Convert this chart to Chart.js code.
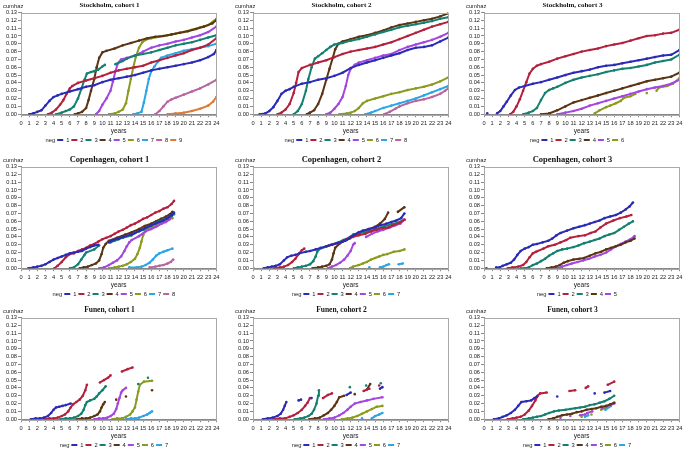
<!DOCTYPE html>
<html>
<head>
<meta charset="utf-8">
<script src="https://cdn.jsdelivr.net/npm/chart.js@4.4.1/dist/chart.umd.min.js"></script>
<style>
  body { margin: 0; background: #fff; }
  #wrap { position: relative; width: 685px; height: 452px; overflow: hidden; }
  #wrap canvas { position: absolute; }
</style>
</head>
<body>
<div id="wrap"></div>
<script>
// cumulative hazard, [years, cumhaz] per neg group
const stockholm1 = [
  [[1.0,0],[1.5,0.001],[2.0,0.003],[2.5,0.005],[3.0,0.011],[3.5,0.017],[4.0,0.022],[4.5,0.024],[5.0,0.026],[6.0,0.029],[7.0,0.032],[8.0,0.035],[9.0,0.037],[10.0,0.041],[11.0,0.044],[12.0,0.046],[13.0,0.048],[14.0,0.050],[15.0,0.053],[16.0,0.056],[17.0,0.058],[18.0,0.060],[19.0,0.062],[20.0,0.064],[21.0,0.066],[22.0,0.069],[23.0,0.073],[23.7,0.077],[24.0,0.082]],
  [[3.3,0],[3.8,0.002],[4.3,0.006],[4.8,0.012],[5.2,0.018],[5.6,0.026],[6.0,0.033],[6.3,0.036],[7.0,0.040],[8.0,0.043],[9.0,0.046],[10.0,0.049],[11.0,0.053],[12.0,0.056],[13.0,0.058],[14.0,0.060],[15.0,0.062],[16.0,0.066],[17.0,0.069],[18.0,0.072],[19.0,0.075],[20.0,0.078],[21.0,0.082],[22.0,0.085],[23.0,0.089],[24.0,0.097]],
  [[4.3,0],[5.0,0.002],[5.5,0.004],[6.0,0.006],[6.5,0.010],[7.0,0.020],[7.4,0.032],[7.8,0.044],[8.1,0.052],[8.6,0.054],[9.0,0.055],[9.5,0.057],[10.0,0.061],[10.3,0.063],[11.6,0.064],[12.5,0.068],[13.0,0.071],[14.0,0.075],[15.0,0.077],[16.0,0.079],[17.0,0.082],[18.0,0.085],[19.0,0.088],[20.0,0.090],[21.0,0.092],[22.0,0.095],[23.0,0.098],[24.0,0.101]],
  [[6.6,0],[7.0,0.001],[7.5,0.003],[8.0,0.008],[8.3,0.018],[8.6,0.030],[9.0,0.045],[9.3,0.060],[9.6,0.072],[10.0,0.079],[10.5,0.081],[11.5,0.084],[12.5,0.088],[13.5,0.091],[14.5,0.094],[15.5,0.097],[16.5,0.099],[17.5,0.100],[18.5,0.102],[19.5,0.104],[20.5,0.106],[21.5,0.109],[22.5,0.112],[23.5,0.116],[24.0,0.120]],
  [[9.2,0],[9.6,0.004],[10.0,0.012],[10.5,0.020],[11.0,0.030],[11.3,0.042],[11.6,0.055],[11.9,0.065],[12.3,0.070],[13.0,0.072],[14.0,0.075],[15.0,0.080],[16.0,0.085],[17.0,0.088],[18.0,0.090],[19.0,0.093],[20.0,0.095],[21.0,0.098],[22.0,0.101],[23.0,0.105],[24.0,0.112]],
  [[10.8,0],[11.5,0.001],[12.0,0.003],[12.5,0.006],[12.9,0.014],[13.2,0.030],[13.5,0.045],[13.8,0.060],[14.1,0.073],[14.5,0.085],[14.9,0.092],[15.3,0.095],[16.0,0.097],[17.0,0.099],[18.0,0.101],[19.0,0.103],[20.0,0.105],[21.0,0.108],[22.0,0.111],[23.0,0.114],[24.0,0.122]],
  [[13.8,0],[14.3,0.001],[14.8,0.003],[15.1,0.015],[15.4,0.030],[15.7,0.045],[16.0,0.055],[16.4,0.061],[16.8,0.067],[17.2,0.072],[18.0,0.075],[19.0,0.078],[20.0,0.081],[21.0,0.083],[22.0,0.085],[23.0,0.087],[24.0,0.090]],
  [[16.5,0],[17.0,0.004],[17.5,0.010],[18.0,0.016],[18.5,0.019],[19.0,0.021],[20.0,0.025],[21.0,0.029],[22.0,0.033],[23.0,0.038],[24.0,0.044]],
  [[18.0,0],[19.0,0.001],[20.0,0.002],[21.0,0.004],[22.0,0.007],[23.0,0.011],[23.6,0.016],[24.0,0.022]]
];

const stockholm2 = [
  [[0.8,0],[1.5,0.001],[2.0,0.004],[2.5,0.009],[3.0,0.017],[3.5,0.026],[4.0,0.030],[4.5,0.032],[5.0,0.035],[6.0,0.039],[7.0,0.041],[8.0,0.044],[9.0,0.046],[10.0,0.049],[11.0,0.053],[12.0,0.059],[13.0,0.063],[14.0,0.066],[15.0,0.069],[16.0,0.072],[17.0,0.075],[18.0,0.078],[19.0,0.082],[20.0,0.085],[21.0,0.086],[22.0,0.088],[23.0,0.093],[24.0,0.098]],
  [[3.0,0],[3.5,0.002],[4.0,0.006],[4.5,0.013],[5.0,0.027],[5.3,0.040],[5.6,0.054],[6.0,0.059],[7.0,0.063],[8.0,0.066],[9.0,0.069],[10.0,0.073],[11.0,0.077],[12.0,0.080],[13.0,0.082],[14.0,0.084],[15.0,0.086],[16.0,0.089],[17.0,0.092],[18.0,0.096],[19.0,0.100],[20.0,0.104],[21.0,0.108],[22.0,0.112],[23.0,0.115],[24.0,0.118]],
  [[5.0,0],[5.5,0.004],[6.0,0.013],[6.5,0.030],[6.8,0.045],[7.2,0.060],[7.6,0.071],[8.0,0.074],[8.5,0.078],[9.0,0.082],[9.5,0.086],[10.0,0.089],[10.5,0.090],[11.0,0.091],[12.0,0.094],[13.0,0.096],[14.0,0.099],[15.0,0.102],[16.0,0.105],[17.0,0.108],[18.0,0.111],[19.0,0.113],[20.0,0.115],[21.0,0.117],[22.0,0.119],[23.0,0.122],[24.0,0.124]],
  [[6.6,0],[7.0,0.002],[7.5,0.005],[8.0,0.013],[8.5,0.026],[9.0,0.044],[9.4,0.058],[9.8,0.072],[10.1,0.083],[10.5,0.090],[11.0,0.093],[12.0,0.096],[13.0,0.099],[14.0,0.101],[15.0,0.104],[16.0,0.107],[17.0,0.111],[18.0,0.114],[19.0,0.116],[20.0,0.118],[21.0,0.120],[22.0,0.122],[23.0,0.125],[24.0,0.129]],
  [[9.0,0],[9.5,0.002],[10.0,0.007],[10.5,0.013],[11.0,0.022],[11.4,0.036],[11.7,0.050],[12.0,0.058],[12.5,0.063],[13.0,0.066],[14.0,0.069],[15.0,0.072],[16.0,0.075],[17.0,0.077],[18.0,0.082],[19.0,0.086],[20.0,0.089],[21.0,0.092],[22.0,0.095],[23.0,0.099],[24.0,0.104]],
  [[10.6,0],[11.5,0.001],[12.0,0.002],[12.5,0.004],[13.0,0.008],[13.5,0.014],[14.0,0.017],[15.0,0.020],[16.0,0.023],[17.0,0.026],[18.0,0.028],[19.0,0.031],[20.0,0.033],[21.0,0.035],[22.0,0.038],[23.0,0.042],[24.0,0.047]],
  [[13.8,0],[14.5,0.002],[15.0,0.004],[16.0,0.008],[17.0,0.011],[18.0,0.014],[19.0,0.017],[20.0,0.020],[21.0,0.024],[22.0,0.028],[23.0,0.032],[24.0,0.036]],
  [[16.1,0],[16.8,0.003],[17.5,0.007],[18.0,0.010],[19.0,0.014],[20.0,0.017],[21.0,0.019],[22.0,0.022],[23.0,0.026],[23.6,0.030],[24.0,0.033]]
];

const stockholm3 = [
  [[0.4,0.001],[1.6,0.001],[2.0,0.004],[2.4,0.010],[2.8,0.016],[3.3,0.024],[3.8,0.031],[4.3,0.034],[5.0,0.036],[6.0,0.039],[7.0,0.041],[8.0,0.044],[9.0,0.047],[10.0,0.050],[11.0,0.053],[12.0,0.055],[13.0,0.057],[14.0,0.060],[15.0,0.062],[16.0,0.063],[17.0,0.065],[18.0,0.067],[19.0,0.069],[20.0,0.071],[21.0,0.073],[22.0,0.075],[23.0,0.076],[24.0,0.082]],
  [[3.2,0],[3.6,0.003],[4.0,0.010],[4.4,0.019],[4.8,0.030],[5.2,0.041],[5.6,0.052],[6.0,0.058],[6.5,0.062],[7.0,0.064],[8.0,0.067],[9.0,0.071],[10.0,0.074],[11.0,0.077],[12.0,0.080],[13.0,0.082],[14.0,0.084],[15.0,0.087],[16.0,0.089],[17.0,0.091],[18.0,0.094],[19.0,0.097],[20.0,0.100],[21.0,0.101],[22.0,0.103],[23.0,0.104],[24.0,0.108]],
  [[4.8,0],[5.5,0.002],[6.0,0.004],[6.5,0.008],[7.0,0.018],[7.5,0.027],[8.0,0.031],[8.5,0.033],[9.0,0.035],[10.0,0.040],[11.0,0.044],[12.0,0.047],[13.0,0.049],[14.0,0.051],[15.0,0.054],[16.0,0.056],[17.0,0.058],[18.0,0.059],[19.0,0.061],[20.0,0.063],[21.0,0.066],[22.0,0.068],[23.0,0.070],[24.0,0.076]],
  [[7.0,0],[8.0,0.001],[9.0,0.005],[10.0,0.010],[11.0,0.015],[12.0,0.018],[13.0,0.021],[14.0,0.024],[15.0,0.027],[16.0,0.030],[17.0,0.033],[18.0,0.036],[19.0,0.039],[20.0,0.042],[21.0,0.044],[22.0,0.046],[23.0,0.048],[24.0,0.053]],
  [[9.0,0],[10.0,0.002],[11.0,0.004],[12.0,0.007],[13.0,0.011],[14.0,0.014],[15.0,0.017],[16.0,0.020],[17.0,0.023],[18.0,0.026],[19.0,0.029],[20.0,0.032],[21.0,0.034],[22.0,0.036],[23.0,0.039],[24.0,0.044]],
  [[13.6,0.001],[14.2,0.005],[15.0,0.009],[15.5,0.011],[16.2,0.014],[16.8,0.017],[17.2,0.021],[18.0,0.023],[18.6,0.026],[20.0,0.027],[21.2,0.030],[21.5,0.034],[22.5,0.036],[23.2,0.039],[24.0,0.046]]
];

const copenhagen1 = [
  [[0.9,0],[1.5,0.001],[2.0,0.002],[2.5,0.003],[3.0,0.005],[3.5,0.008],[4.0,0.011],[4.5,0.013],[5.0,0.015],[5.5,0.017],[6.0,0.019],[6.5,0.020],[7.0,0.021],[7.5,0.022],[8.0,0.025],[8.5,0.027],[9.0,0.029],[9.5,0.030],[10.8,0.033],[11.3,0.036],[12.0,0.038],[12.6,0.040],[13.5,0.043],[14.0,0.045],[14.6,0.048],[15.2,0.051],[16.0,0.055],[16.5,0.057],[17.0,0.059],[17.5,0.061],[18.0,0.064],[18.5,0.068],[18.8,0.071]],
  [[4.1,0],[4.5,0.003],[5.0,0.008],[5.5,0.014],[6.0,0.018],[6.5,0.019],[7.0,0.022],[7.5,0.024],[8.0,0.026],[8.5,0.029],[9.0,0.031],[9.5,0.034],[10.0,0.037],[10.5,0.039],[11.0,0.041],[11.5,0.044],[12.0,0.047],[12.5,0.049],[13.0,0.052],[13.5,0.055],[14.0,0.057],[14.5,0.060],[15.0,0.063],[15.5,0.065],[16.0,0.068],[16.5,0.071],[17.0,0.073],[17.5,0.076],[18.0,0.078],[18.5,0.082],[18.8,0.086]],
  [[6.0,0],[6.5,0.001],[7.0,0.005],[7.4,0.011],[7.8,0.017],[8.0,0.020],[9.0,0.024],[9.6,0.029],[11.0,0.033],[11.5,0.035],[12.0,0.037],[12.5,0.039],[13.6,0.042],[14.0,0.045],[14.5,0.047],[15.0,0.049],[15.5,0.052],[16.0,0.054],[16.5,0.057],[17.0,0.060],[17.5,0.062],[18.0,0.064],[18.5,0.067],[18.8,0.069]],
  [[7.2,0],[7.7,0.001],[8.2,0.002],[8.7,0.004],[9.2,0.006],[9.6,0.010],[9.9,0.018],[10.1,0.026],[10.4,0.031],[10.8,0.035],[11.8,0.039],[12.8,0.043],[13.6,0.046],[14.5,0.050],[15.2,0.054],[16.0,0.057],[16.6,0.060],[17.2,0.063],[17.8,0.066],[18.3,0.069],[18.6,0.072]],
  [[9.6,0],[10.2,0.001],[10.8,0.004],[11.3,0.007],[11.8,0.010],[12.3,0.015],[12.7,0.022],[13.0,0.028],[13.3,0.033],[13.6,0.036],[14.5,0.041],[15.3,0.047],[16.0,0.050],[16.6,0.053],[17.3,0.057],[17.8,0.059],[18.2,0.062],[18.5,0.066]],
  [[10.8,0],[11.5,0.001],[12.0,0.002],[12.5,0.003],[13.0,0.005],[13.5,0.008],[14.0,0.012],[14.3,0.018],[14.6,0.026],[14.8,0.034],[15.0,0.042],[15.3,0.048],[15.8,0.051],[16.3,0.053],[16.8,0.056],[17.3,0.059],[17.8,0.061],[18.3,0.063],[18.6,0.064]],
  [[13.3,0.001],[14.2,0.001],[14.8,0.002],[15.3,0.004],[15.8,0.007],[16.2,0.011],[16.6,0.016],[17.0,0.019],[17.5,0.021],[18.0,0.023],[18.6,0.025]],
  [[15.8,0.001],[16.5,0.002],[17.0,0.003],[17.5,0.004],[18.0,0.006],[18.4,0.008],[18.7,0.011]]
];

const copenhagen2 = [
  [[0.0,0.001],[1.3,0],[1.8,0.001],[2.3,0.002],[2.8,0.003],[3.3,0.005],[3.8,0.010],[4.2,0.014],[4.7,0.016],[5.2,0.017],[5.7,0.019],[6.5,0.021],[7.0,0.022],[7.7,0.024],[8.3,0.026],[9.0,0.028],[9.7,0.030],[10.3,0.032],[11.0,0.034],[11.5,0.036],[12.0,0.040],[12.5,0.043],[13.0,0.046],[13.5,0.048],[14.2,0.050],[15.0,0.052],[15.7,0.055],[16.4,0.057],[17.0,0.059],[17.6,0.061],[18.2,0.064],[18.6,0.070]],
  [[2.6,0],[3.3,0.001],[3.8,0.002],[4.3,0.004],[4.8,0.008],[5.2,0.012],[5.6,0.018],[6.0,0.023],[6.3,0.025],[9.3,0.029],[10.0,0.031],[10.7,0.033],[11.5,0.037],[12.3,0.040],[13.0,0.042],[13.8,0.044],[14.5,0.047],[15.2,0.049],[15.8,0.051],[16.6,0.052],[17.3,0.055],[18.0,0.058],[18.6,0.062]],
  [[5.0,0],[5.5,0.001],[6.0,0.002],[6.5,0.003],[7.0,0.005],[7.4,0.009],[7.7,0.015],[7.9,0.021],[8.1,0.024],[9.1,0.028],[9.6,0.030],[10.5,0.033],[11.1,0.036],[11.8,0.039],[12.3,0.043],[13.0,0.045],[14.0,0.047],[14.8,0.049],[15.5,0.051],[16.2,0.054],[17.0,0.056],[17.7,0.058],[18.6,0.062]],
  [[7.3,0],[8.0,0.001],[8.5,0.002],[9.0,0.003],[9.4,0.005],[9.7,0.011],[9.9,0.019],[10.1,0.026],[10.7,0.032],[11.3,0.035],[11.9,0.038],[12.5,0.042],[13.1,0.045],[13.8,0.048],[14.3,0.050],[15.0,0.053],[15.6,0.057],[16.2,0.063],[16.6,0.071],[17.8,0.072],[18.6,0.078]],
  [[9.2,0],[9.7,0.002],[10.2,0.004],[10.7,0.007],[11.2,0.011],[11.6,0.016],[12.0,0.022],[12.3,0.030],[12.5,0.032],[13.9,0.040],[14.6,0.044],[15.3,0.047],[16.0,0.049],[16.8,0.052],[17.5,0.055],[18.1,0.057],[18.6,0.062]],
  [[11.9,0],[12.3,0.002],[13.0,0.004],[13.5,0.006],[14.0,0.008],[14.5,0.011],[15.0,0.013],[15.5,0.015],[16.0,0.017],[16.5,0.018],[17.3,0.021],[18.0,0.022],[18.6,0.024]],
  [[14.3,0.001],[15.6,0.001],[16.0,0.002],[16.4,0.004],[16.7,0.005],[17.9,0.005],[18.4,0.006]]
];

const copenhagen3 = [
  [[0.3,0],[1.5,0.001],[1.9,0.001],[2.3,0.003],[2.8,0.005],[3.3,0.007],[3.7,0.011],[4.1,0.017],[4.5,0.022],[5.0,0.025],[5.5,0.027],[6.0,0.030],[6.5,0.031],[7.2,0.033],[7.9,0.035],[8.4,0.038],[8.9,0.042],[9.4,0.045],[10.2,0.048],[11.0,0.051],[11.7,0.053],[12.4,0.055],[13.0,0.057],[13.6,0.059],[14.2,0.061],[14.8,0.064],[15.5,0.066],[16.2,0.068],[16.8,0.071],[17.4,0.075],[17.9,0.079],[18.3,0.084]],
  [[2.9,0],[3.5,0.001],[4.2,0.002],[4.8,0.004],[5.2,0.008],[5.6,0.014],[6.0,0.019],[6.4,0.021],[7.3,0.025],[7.9,0.028],[8.7,0.030],[9.4,0.033],[10.1,0.036],[10.6,0.039],[11.6,0.041],[12.4,0.042],[13.1,0.045],[13.7,0.047],[14.3,0.052],[15.0,0.057],[15.9,0.061],[16.7,0.064],[17.5,0.066],[18.1,0.068]],
  [[4.5,0],[5.0,0],[5.5,0.001],[6.0,0.004],[6.5,0.006],[7.0,0.009],[7.5,0.012],[8.0,0.016],[8.5,0.019],[9.0,0.022],[9.6,0.024],[10.2,0.025],[11.0,0.027],[11.6,0.029],[12.3,0.032],[13.0,0.034],[13.6,0.036],[14.2,0.038],[14.8,0.041],[15.4,0.043],[16.0,0.045],[16.6,0.049],[17.2,0.053],[17.8,0.057],[18.3,0.060]],
  [[7.7,0],[8.3,0.001],[8.8,0.002],[9.3,0.004],[9.8,0.007],[10.3,0.009],[11.0,0.011],[11.7,0.012],[12.3,0.013],[13.0,0.016],[13.7,0.019],[14.4,0.021],[15.0,0.024],[15.6,0.026],[16.2,0.028],[16.8,0.030],[17.4,0.033],[18.0,0.035],[18.5,0.038]],
  [[9.0,0],[9.6,0.002],[10.2,0.004],[10.8,0.006],[11.5,0.008],[12.2,0.010],[12.9,0.012],[13.6,0.015],[14.3,0.017],[15.0,0.020],[15.6,0.024],[16.2,0.028],[16.8,0.031],[17.4,0.034],[18.0,0.037],[18.5,0.041]]
];

const funen1 = [
  [[1.2,0],[1.8,0.001],[2.3,0.001],[2.8,0.002],[3.3,0.004],[3.7,0.008],[4.0,0.012],[4.3,0.015],[4.7,0.016],[5.1,0.017],[5.5,0.018],[6.1,0.020]],
  [[2.9,0],[3.5,0.001],[4.0,0.001],[4.5,0.002],[5.0,0.004],[5.4,0.006],[5.8,0.010],[6.1,0.015],[6.4,0.019],[6.8,0.022],[7.2,0.025],[7.6,0.030],[7.9,0.037],[8.1,0.044],[9.7,0.047],[10.2,0.050],[10.7,0.053],[11.0,0.056],[12.4,0.061],[13.1,0.064],[13.7,0.066]],
  [[4.8,0],[5.5,0.001],[6.0,0.001],[6.5,0.002],[7.0,0.004],[7.4,0.007],[7.7,0.012],[7.9,0.018],[8.1,0.022],[8.5,0.024],[9.0,0.026],[9.3,0.029],[9.6,0.033],[10.0,0.037],[10.4,0.042],[14.4,0.045],[15.6,0.053]],
  [[6.8,0],[7.5,0.001],[8.0,0.001],[8.5,0.002],[9.0,0.004],[9.4,0.006],[9.7,0.010],[9.9,0.015],[10.1,0.019],[10.3,0.022],[11.7,0.025],[12.9,0.029],[16.1,0.037]],
  [[9.0,0],[9.6,0.001],[10.1,0.001],[10.6,0.002],[11.0,0.004],[11.4,0.007],[11.7,0.013],[11.9,0.020],[12.1,0.027],[12.3,0.034],[12.5,0.037],[12.9,0.040]],
  [[11.2,0],[11.8,0.001],[12.4,0.001],[12.9,0.003],[13.4,0.006],[13.7,0.010],[14.0,0.015],[14.2,0.025],[14.4,0.035],[14.6,0.044],[15.1,0.048],[16.1,0.049]],
  [[12.9,0],[13.5,0.001],[14.0,0.001],[14.5,0.002],[15.0,0.004],[15.5,0.006],[15.8,0.008],[16.1,0.010]]
];

const funen2 = [
  [[1.2,0],[1.8,0.001],[2.4,0.002],[3.0,0.004],[3.4,0.007],[3.7,0.012],[3.9,0.017],[4.1,0.022],[5.6,0.024],[5.9,0.025],[7.2,0.027],[11.5,0.031],[12.0,0.034],[15.6,0.039],[15.9,0.041]],
  [[2.6,0],[3.3,0.001],[3.9,0.001],[4.5,0.003],[5.0,0.005],[5.5,0.008],[6.0,0.012],[6.4,0.017],[6.7,0.021],[7.0,0.027],[8.6,0.027],[9.2,0.031],[9.7,0.033],[13.6,0.036],[14.3,0.039],[15.5,0.043]],
  [[5.1,0],[5.8,0.001],[6.3,0.002],[6.8,0.004],[7.2,0.007],[7.5,0.012],[7.8,0.020],[8.0,0.030],[8.1,0.037],[11.9,0.041],[13.9,0.043],[15.7,0.046]],
  [[6.9,0],[7.6,0.001],[8.2,0.002],[8.7,0.005],[9.2,0.008],[9.6,0.012],[10.0,0.017],[10.3,0.022],[10.6,0.028],[11.2,0.030],[12.5,0.032],[14.0,0.038],[14.4,0.045]],
  [[8.7,0],[9.4,0.001],[10.0,0.002],[10.6,0.005],[11.1,0.008],[11.6,0.012],[12.0,0.016],[12.5,0.020],[13.2,0.022],[14.0,0.024],[14.8,0.026],[15.9,0.028]],
  [[10.9,0],[11.6,0.001],[12.2,0.002],[12.8,0.004],[13.4,0.007],[14.0,0.010],[14.6,0.013],[15.2,0.016],[15.9,0.017]],
  [[13.4,0.001],[14.6,0.001],[15.0,0.004],[15.5,0.006],[15.9,0.008]]
];

const funen3 = [
  [[1.2,0],[1.8,0.001],[2.3,0.003],[2.8,0.005],[3.3,0.008],[3.8,0.012],[4.2,0.017],[4.6,0.022],[5.2,0.023],[5.8,0.024],[6.2,0.027],[6.5,0.029],[9.0,0.029],[13.6,0.033],[14.8,0.034],[15.5,0.036]],
  [[2.9,0],[3.5,0.001],[4.0,0.002],[4.5,0.003],[5.0,0.006],[5.5,0.011],[5.9,0.017],[6.3,0.024],[6.6,0.030],[6.9,0.033],[7.7,0.034],[10.5,0.036],[11.2,0.037],[12.5,0.040],[12.8,0.042],[15.2,0.044],[16.0,0.048]],
  [[4.8,0],[5.5,0.001],[6.0,0.002],[6.5,0.003],[7.0,0.004],[7.5,0.006],[8.0,0.008],[8.6,0.010],[9.2,0.011],[10.0,0.012],[10.6,0.013],[11.2,0.014],[11.8,0.015],[12.4,0.016],[13.0,0.018],[13.6,0.019],[14.2,0.021],[14.8,0.023],[15.4,0.026],[16.0,0.030]],
  [[7.9,0],[8.5,0.001],[9.0,0.003],[9.6,0.005],[10.2,0.006],[10.8,0.007],[11.4,0.009],[12.0,0.010],[12.6,0.012],[13.2,0.013],[13.8,0.014],[14.4,0.016],[15.0,0.017],[15.5,0.019],[16.0,0.021]],
  [[9.4,0.002],[10.6,0.004],[11.8,0.005],[12.4,0.006],[12.7,0.008],[13.3,0.010],[14.5,0.014],[15.0,0.016],[15.5,0.018],[16.0,0.020]],
  [[12.0,0.003],[13.2,0.006],[14.4,0.012],[14.9,0.015],[15.5,0.018],[16.0,0.021]],
  [[12.4,0.003],[12.8,0.005],[14.9,0.012],[15.6,0.017]]
];

const panelTitles = ['Stockholm, cohort 1', 'Stockholm, cohort 2', 'Stockholm, cohort 3',
                     'Copenhagen, cohort 1', 'Copenhagen, cohort 2', 'Copenhagen, cohort 3',
                     'Funen, cohort 1', 'Funen, cohort 2', 'Funen, cohort 3'];
const panelData = [stockholm1, stockholm2, stockholm3, copenhagen1, copenhagen2, copenhagen3, funen1, funen2, funen3];
const negColors = ['#2b2bb6', '#b4213d', '#138070', '#5b3513', '#a546e0', '#8c9b1d', '#2ba5e5', '#b9649f', '#e27a36'];

const colLeft = [0, 232, 463];
const rowTop = [0, 154, 305];
const titleSize = [7, 8.5, 7.5];

Chart.defaults.font.family = '"Liberation Sans", Arial, sans-serif';
Chart.defaults.color = '#222';

// frame round the plot area and the horizontal "cumhaz" label
const framePlugin = {
  id: 'frame',
  afterDraw(chart) {
    const a = chart.chartArea, c = chart.ctx;
    c.save();
    c.strokeStyle = '#a9a9a9';
    c.lineWidth = 1;
    c.strokeRect(Math.round(a.left) + 0.5, Math.round(a.top) + 0.5, Math.round(a.right - a.left), Math.round(a.bottom - a.top));
    c.fillStyle = '#222';
    c.font = '5.8px "Liberation Sans", Arial, sans-serif';
    c.textBaseline = 'middle';
    c.fillText('cumhaz', a.left - 18, a.top - 6);
    c.restore();
  }
};

const wrap = document.getElementById('wrap');
panelData.forEach((series, i) => {
  const row = Math.floor(i / 3), col = i % 3;
  const cv = document.createElement('canvas');
  cv.width = 222; cv.height = 148;
  cv.style.left = colLeft[col] + 'px';
  cv.style.top = rowTop[row] + 'px';
  wrap.appendChild(cv);

  const datasets = series.map((pts, k) => ({
    label: String(k + 1),
    data: pts,
    borderColor: negColors[k],
    backgroundColor: negColors[k],
    borderWidth: 2,
    pointRadius: 1.3,
    pointBorderWidth: 0,
    pointBackgroundColor: negColors[k],
    tension: 0,
    segment: {
      borderColor: ctx => (ctx.p1.parsed.x - ctx.p0.parsed.x > 1.1 ? 'rgba(0,0,0,0)' : undefined)
    }
  }));

  new Chart(cv, {
    type: 'line',
    data: { datasets },
    plugins: [framePlugin],
    options: {
      responsive: false,
      animation: false,
      layout: { padding: { left: 0, right: 3, top: 0, bottom: -5 } },
      scales: {
        x: {
          type: 'linear', min: 0, max: 24,
          afterFit: s => { s.height = 21; },
          ticks: { stepSize: 1, font: { size: 5.7 }, padding: 2.5, maxRotation: 0, autoSkip: false },
          grid: { drawOnChartArea: false, tickLength: 3, color: '#888' },
          border: { color: '#888' },
          title: { display: true, text: 'years', font: { size: 6.5 }, padding: { top: 0, bottom: 0 } }
        },
        y: {
          min: 0, max: 0.13,
          afterFit: s => { s.width = 21; },
          ticks: { stepSize: 0.01, font: { size: 5.7 }, padding: 1, autoSkip: false, callback: v => v.toFixed(2) },
          grid: { drawOnChartArea: false, tickLength: 3, color: '#888' },
          border: { color: '#888' }
        }
      },
      plugins: {
        tooltip: { enabled: false },
        title: {
          display: true, text: panelTitles[i],
          font: { family: '"Liberation Serif", "DejaVu Serif", serif', weight: 'bold', size: titleSize[row] },
          color: '#111',
          padding: { top: 1, bottom: 11.5 - 1.2 * titleSize[row] }
        },
        legend: {
          position: 'bottom',
          onClick: null,
          labels: {
            font: { size: 5.8 }, boxWidth: 6, boxHeight: 2, padding: 2,
            generateLabels: chart => {
              const items = Chart.defaults.plugins.legend.labels.generateLabels(chart);
              items.forEach(it => { it.lineWidth = 0; });
              items.unshift({ text: 'neg', fillStyle: 'rgba(0,0,0,0)', strokeStyle: 'rgba(0,0,0,0)', lineWidth: 0, hidden: false, fontColor: '#222' });
              return items;
            }
          }
        }
      }
    }
  });
});
</script>
</body>
</html>
